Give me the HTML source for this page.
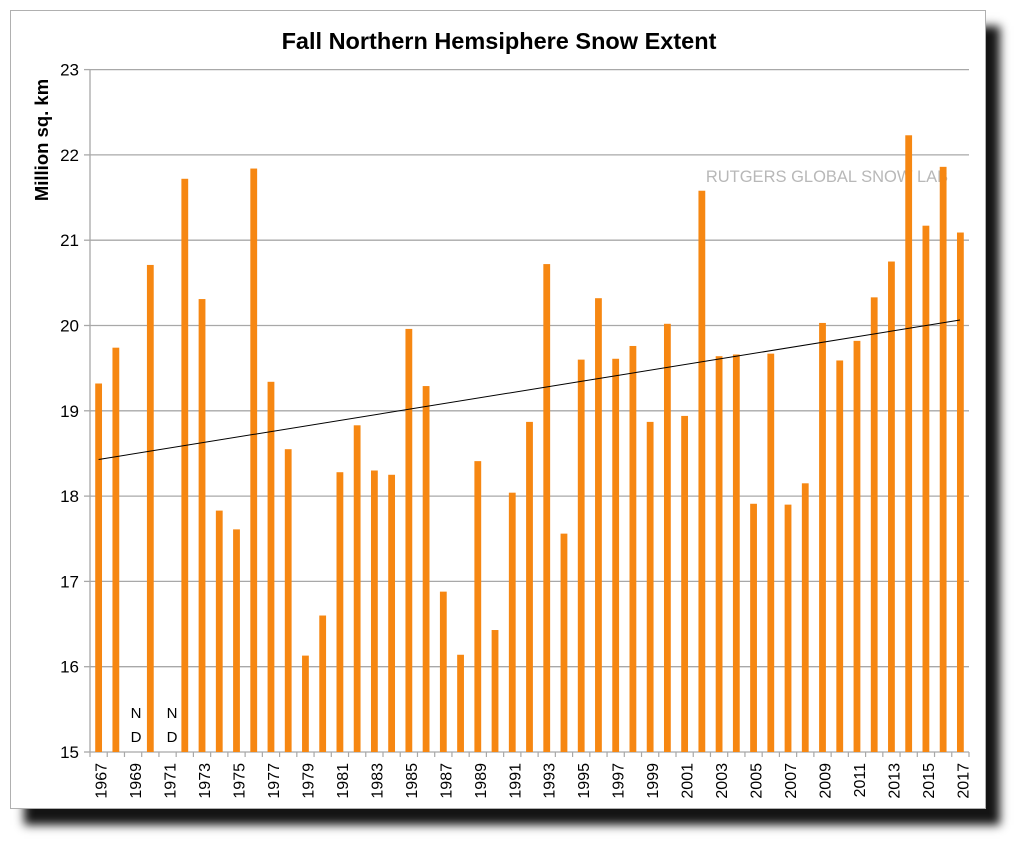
<!DOCTYPE html>
<html><head><meta charset="utf-8"><style>
body{margin:0;width:1024px;height:847px;background:#fff;overflow:hidden;position:relative;font-family:"Liberation Sans",Arial,sans-serif}
#box{position:absolute;left:10px;top:10px;width:974px;height:797px;border:1px solid #b0b0b0;background:#fff;box-shadow:14px 16px 9px rgba(0,0,0,0.92)}
svg{position:absolute;left:0;top:0}
</style></head><body>
<div id="box"></div>
<svg width="1024" height="847" xmlns="http://www.w3.org/2000/svg" font-family="Liberation Sans, Arial, sans-serif">
<text x="499" y="49" text-anchor="middle" font-size="23.5" font-weight="bold">Fall Northern Hemsiphere Snow Extent</text>
<text transform="translate(48,140) rotate(-90)" text-anchor="middle" font-size="18.5" font-weight="bold">Million sq. km</text>
<g id="grid"></g>
<text x="827" y="182" text-anchor="middle" font-size="16.5" fill="#b8b8b8">RUTGERS GLOBAL SNOW LAB</text>
<g id="bars"></g>
<line x1="98.6" y1="459.5" x2="960" y2="320" stroke="#000" stroke-width="1"/>
<g id="lab"></g>
<text x="136" y="718" text-anchor="middle" font-size="15">N</text>
<text x="136" y="742" text-anchor="middle" font-size="15">D</text>
<text x="172" y="718" text-anchor="middle" font-size="15">N</text>
<text x="172" y="742" text-anchor="middle" font-size="15">D</text>
</svg>
<script>
const ns="http://www.w3.org/2000/svg";
function el(t,a,p,txt){const e=document.createElementNS(ns,t);for(const k in a)e.setAttribute(k,a[k]);if(txt!==undefined)e.textContent=txt;document.getElementById(p).appendChild(e);}
const X0=90,XR=969,Y0=752,S=85.3,W=(XR-X0)/51;
for(let v=15;v<=23;v++){const y=Y0-(v-15)*S;
 if(v>15)el('line',{x1:X0,y1:y,x2:XR,y2:y,stroke:'#a8a8a8','stroke-width':1.3},'grid');
 el('line',{x1:X0-6,y1:y,x2:X0,y2:y,stroke:'#a8a8a8','stroke-width':1.3},'grid');
 el('text',{x:79,y:y+6,'text-anchor':'end','font-size':17},'grid',v);}
el('line',{x1:X0,y1:70,x2:X0,y2:Y0,stroke:'#a8a8a8','stroke-width':1.3},'grid');
el('line',{x1:X0,y1:Y0,x2:XR,y2:Y0,stroke:'#a8a8a8','stroke-width':1.3},'grid');
for(let i=0;i<=51;i++){const x=X0+i*W;el('line',{x1:x,y1:Y0,x2:x,y2:Y0+5,stroke:'#a8a8a8','stroke-width':1.2},'grid');}
const d=[19.32,19.74,null,20.71,null,21.72,20.31,17.83,17.61,21.84,19.34,18.55,16.13,16.6,18.28,18.83,18.3,18.25,19.96,19.29,16.88,16.14,18.41,16.43,18.04,18.87,20.72,17.56,19.6,20.32,19.61,19.76,18.87,20.02,18.94,21.58,19.64,19.66,17.91,19.67,17.9,18.15,20.03,19.59,19.82,20.33,20.75,22.23,21.17,21.86,21.09];
d.forEach((v,i)=>{const cx=X0+(i+0.5)*W;
 if(v!==null){const y=Y0-(v-15)*S;el('rect',{x:cx-3.4,y:y,width:6.8,height:Y0-y,fill:'#f68712'},'bars');}
 if(i%2==0)el('text',{transform:`translate(${cx+8},${Y0+11}) rotate(-90)`,'text-anchor':'end','font-size':16},'lab',1967+i);});
</script>
</body></html>
